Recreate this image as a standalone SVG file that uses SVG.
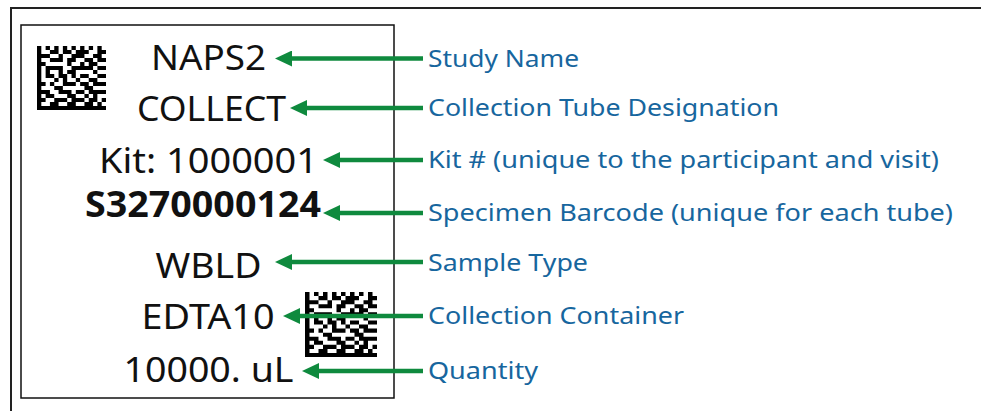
<svg xmlns="http://www.w3.org/2000/svg" xmlns:xlink="http://www.w3.org/1999/xlink" width="981" height="411" viewBox="0 0 981 411">
<style>
.lbl{font-family:"Noto Sans","Open Sans","Liberation Sans",sans-serif;font-size:35px;fill:#111;text-anchor:middle}
.bold{font-weight:bold}
.ann{font-family:"Noto Sans","Open Sans","Liberation Sans",sans-serif;font-size:24px;fill:#17669e}
.arr{stroke:#0f8a3e;stroke-width:4.5;fill:none;marker-end:url(#ah)}
</style>
<defs>
<marker id="ah" markerUnits="userSpaceOnUse" viewBox="0 0 17 16" refX="7" refY="8" markerWidth="17" markerHeight="16" orient="auto">
<path d="M0 0L17 8L0 16z" fill="#0f8a3e"/>
</marker>
<symbol id="dm" viewBox="0 0 16 16" preserveAspectRatio="none">
<path fill="#000" d="M0 0h1v16h-1z M0 15h16v1h-16z
M2 0h1v1h-1z M4 0h1v1h-1z M6 0h1v1h-1z M8 0h1v1h-1z M10 0h1v1h-1z M12 0h1v1h-1z M14 0h1v1h-1z
M3 1h2v1h-2z M6 1h2v1h-2z M9 1h3v1h-3z M14 1h2v1h-2z
M1 2h2v1h-2z M5 2h1v1h-1z M8 2h3v1h-3z M13 2h2v1h-2z
M3 3h3v1h-3z M7 3h2v1h-2z M11 3h2v1h-2z M14 3h2v1h-2z
M1 4h1v1h-1z M7 4h1v1h-1z M10 4h1v1h-1z M12 4h2v1h-2z
M2 5h4v1h-4z M8 5h5v1h-5z M14 5h2v1h-2z
M2 6h1v1h-1z M5 6h1v1h-1z M7 6h2v1h-2z M13 6h1v1h-1z
M2 7h2v1h-2z M5 7h2v1h-2z M8 7h1v1h-1z M10 7h2v1h-2z M14 7h2v1h-2z
M4 8h1v1h-1z M6 8h1v1h-1z M9 8h1v1h-1z M12 8h2v1h-2z
M1 9h1v1h-1z M3 9h1v1h-1z M6 9h3v1h-3z M10 9h2v1h-2z M13 9h3v1h-3z
M4 10h2v1h-2z M11 10h2v1h-2z
M1 11h2v1h-2z M5 11h3v1h-3z M9 11h2v1h-2z M12 11h4v1h-4z
M2 12h2v1h-2z M7 12h2v1h-2z M11 12h1v1h-1z M13 12h1v1h-1z
M1 13h1v1h-1z M4 13h3v1h-3z M8 13h3v1h-3z M12 13h2v1h-2z M15 13h1v1h-1z
M3 14h2v1h-2z M7 14h2v1h-2z M11 14h2v1h-2z M14 14h1v1h-1z"/>
</symbol>
</defs>
<rect width="981" height="411" fill="#fff"/>
<g id="frame">
<path d="M11 411V8H981" fill="none" stroke="#222" stroke-width="2"/>
<rect x="21" y="25" width="373" height="373" fill="none" stroke="#111" stroke-width="1.5"/>
</g>
<g id="codes">
<use xlink:href="#dm" href="#dm" x="37" y="46" width="69" height="64"/>
<use xlink:href="#dm" href="#dm" x="305" y="292" width="72" height="65"/>
</g>
<g id="label-naps2"><text class="lbl" x="208.5" y="70" textLength="115" lengthAdjust="spacingAndGlyphs">NAPS2</text></g>
<g id="label-collect"><text class="lbl" x="211.5" y="121" textLength="149" lengthAdjust="spacingAndGlyphs">COLLECT</text></g>
<g id="label-kit"><text class="lbl" x="208.5" y="173" textLength="219" lengthAdjust="spacingAndGlyphs">Kit: 1000001</text></g>
<g id="label-specimen"><text class="lbl bold" x="203" y="217" textLength="236" lengthAdjust="spacingAndGlyphs">S3270000124</text></g>
<g id="label-wbld"><text class="lbl" x="208.5" y="278" textLength="106" lengthAdjust="spacingAndGlyphs">WBLD</text></g>
<g id="label-edta"><text class="lbl" x="208" y="329" textLength="133" lengthAdjust="spacingAndGlyphs">EDTA10</text></g>
<g id="label-qty"><text class="lbl" x="208.5" y="382" textLength="170" lengthAdjust="spacingAndGlyphs">10000. uL</text></g>
<g id="ann-study"><text class="ann" x="428" y="67" textLength="151" lengthAdjust="spacingAndGlyphs">Study Name</text></g>
<g id="ann-tube"><text class="ann" x="428" y="116" textLength="351" lengthAdjust="spacingAndGlyphs">Collection Tube Designation</text></g>
<g id="ann-kit"><text class="ann" x="428" y="168" textLength="511" lengthAdjust="spacingAndGlyphs">Kit # (unique to the participant and visit)</text></g>
<g id="ann-specimen"><text class="ann" x="428" y="221" textLength="525" lengthAdjust="spacingAndGlyphs">Specimen Barcode (unique for each tube)</text></g>
<g id="ann-sample"><text class="ann" x="428" y="271" textLength="160" lengthAdjust="spacingAndGlyphs">Sample Type</text></g>
<g id="ann-container"><text class="ann" x="428" y="324" textLength="256" lengthAdjust="spacingAndGlyphs">Collection Container</text></g>
<g id="ann-qty"><text class="ann" x="428" y="379" textLength="110" lengthAdjust="spacingAndGlyphs">Quantity</text></g>
<g id="connectors">
<path class="arr" d="M423 58.5H285"/>
<path class="arr" d="M423 108H300"/>
<path class="arr" d="M423 160H333"/>
<path class="arr" d="M423 213H333"/>
<path class="arr" d="M423 262H285"/>
<path class="arr" d="M423 316H293"/>
<path class="arr" d="M423 371H312"/>
</g>
</svg>
